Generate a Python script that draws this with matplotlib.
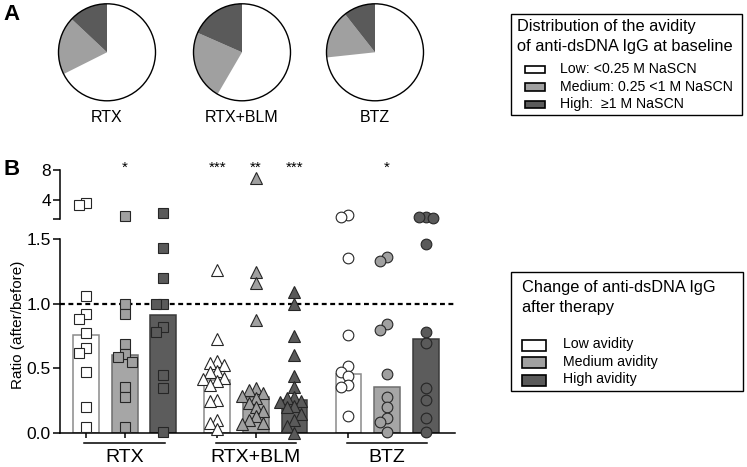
import matplotlib

matplotlib.use("Agg")
import matplotlib.pyplot as plt
import numpy as np
from matplotlib.patches import Circle, Rectangle

plt.rcParams["font.family"] = ["Liberation Sans", "DejaVu Sans"]

# ---- panel A: baseline avidity distribution (fractions) ----
PIE_GROUPS = ["RTX", "RTX+BLM", "BTZ"]
PIE_LOW = [0.676, 0.584, 0.733]
PIE_MED = [0.194, 0.232, 0.161]
PIE_HIGH = [0.130, 0.184, 0.106]

# ---- panel B: ratio after/before per patient ----
GROUPS = ["RTX", "RTX+BLM", "BTZ"]
AVIDITY = ["Low avidity", "Medium avidity", "High avidity"]
RTX_LOW = [3.64, 3.33, 1.06, 0.92, 0.88, 0.77, 0.66, 0.62, 0.47, 0.20, 0.05]
RTX_MED = [1.91, 1.00, 0.92, 0.69, 0.61, 0.585, 0.55, 0.36, 0.28, 0.05]
RTX_HIGH = [2.22, 1.43, 1.20, 1.00, 1.00, 0.82, 0.78, 0.45, 0.35, 0.01]
BLM_LOW = [1.26, 0.73, 0.56, 0.54, 0.53, 0.48, 0.47, 0.43, 0.42, 0.40, 0.37,
           0.26, 0.25, 0.10, 0.08, 0.03]
BLM_MED = [6.89, 1.24, 1.16, 0.87, 0.35, 0.33, 0.31, 0.29, 0.27, 0.23, 0.20,
           0.17, 0.13, 0.10, 0.08, 0.07]
BLM_HIGH = [1.09, 1.00, 0.75, 0.60, 0.44, 0.36, 0.28, 0.27, 0.25, 0.24, 0.21,
            0.20, 0.15, 0.10, 0.06, 0.00]
BTZ_LOW = [2.00, 1.77, 1.35, 0.76, 0.52, 0.47, 0.44, 0.37, 0.36, 0.135]
BTZ_MED = [1.36, 1.33, 0.84, 0.795, 0.46, 0.28, 0.20, 0.12, 0.09, 0.01]
BTZ_HIGH = [1.77, 1.69, 1.64, 1.46, 0.78, 0.70, 0.35, 0.26, 0.115, 0.01]
MEDIAN_RTX = [0.76, 0.60, 0.91]
MEDIAN_BLM = [0.41, 0.28, 0.255]
MEDIAN_BTZ = [0.46, 0.36, 0.73]
STARS_RTX = ["", "*", ""]
STARS_BLM = ["***", "**", "***"]
STARS_BTZ = ["", "*", ""]

SERIES = [[RTX_LOW, RTX_MED, RTX_HIGH], [BLM_LOW, BLM_MED, BLM_HIGH],
          [BTZ_LOW, BTZ_MED, BTZ_HIGH]]
MEDIANS = [MEDIAN_RTX, MEDIAN_BLM, MEDIAN_BTZ]
STARS = [STARS_RTX, STARS_BLM, STARS_BTZ]

# greys: fill, bar edge
FILLS = ["#ffffff", "#a0a0a0", "#5a5a5a"]
BAR_FILL = ["#ffffff", "#a6a6a6", "#5c5c5c"]
BAR_EDGE = ["#8a8a8a", "#6e6e6e", "#3a3a3a"]
MARKERS = ["s", "^", "o"]
MSIZE = [7.2, 8.0, 7.7]

W, H = 747, 467
PX_UNIT = 38.6            # px per category step
LOW_PX, GAP_PX, UP_PX = 194.5, 20.0, 48.75


def fbox(x0, y0, x1, y1):
    return [x0 / W, 1 - y1 / H, (x1 - x0) / W, (y1 - y0) / H]


def ftext(x, y, s, **kw):
    fig.text(x / W, 1 - y / H, s, **kw)


def to_px(v):
    if v <= 1.5:
        return v * LOW_PX / 1.5
    return LOW_PX + GAP_PX + (v - 1.5) * UP_PX / 6.5


def swarm(vals, step=7.0, dy_min=9.0):
    """small beeswarm in pixel space (max 2 steps out) -> offsets in category units"""
    placed, out = [], []
    for v in vals:
        y = to_px(v)
        best, best_d = 0.0, -1.0
        for k in (0, -1, 1, -2, 2):
            x = k * step
            same_col = [abs(y - py) for px, py in placed if abs(x - px) < step * 0.9]
            d = min(same_col) if same_col else np.inf
            if d >= dy_min:
                best = x
                break
            if d > best_d:
                best, best_d = x, d
        placed.append((best, y))
        out.append(best / PX_UNIT)
    return np.array(out)


fig = plt.figure(figsize=(W / 100, H / 100), dpi=100)

# ---------------- panel A ----------------
ftext(11, 14, "A", fontsize=16, fontweight="bold", ha="center", va="center")
for cx, name, lo, me, hi in zip([107, 242, 375], PIE_GROUPS, PIE_LOW, PIE_MED, PIE_HIGH):
    r = 48.5
    pax = fig.add_axes(fbox(cx - r, 52.3 - r, cx + r, 52.3 + r))
    pax.pie([lo, me, hi], colors=FILLS, startangle=90, counterclock=False,
            wedgeprops=dict(linewidth=0))
    pax.add_patch(Circle((0, 0), 1, fill=False, ec="black", lw=1.0, clip_on=False))
    pax.set_xlim(-1, 1)
    pax.set_ylim(-1, 1)
    pax.set_aspect("equal")
    pax.axis("off")
    ftext(cx, 110, name, fontsize=11.5, ha="center", va="top")

# legend A
fig.add_artist(Rectangle((510.7 / W, 1 - 115 / H), 231 / W, 101 / H, fill=False,
                         ec="black", lw=1.0, transform=fig.transFigure))
ftext(516.7, 31.5, "Distribution of the avidity", fontsize=11.8, va="baseline")
ftext(516.7, 50.5, "of anti-dsDNA IgG at baseline", fontsize=11.8, va="baseline")
for i, lab in enumerate(["Low: <0.25 M NaSCN", "Medium: 0.25 <1 M NaSCN",
                         "High:  \u22651 M NaSCN"]):
    base = 73.3 + i * 17.5
    fig.add_artist(Rectangle((525 / W, 1 - base / H), 20 / W, 7.7 / H, fc=FILLS[i],
                             ec="black", lw=1.2, transform=fig.transFigure))
    ftext(560, base, lab, fontsize=10.2, va="baseline")

# ---------------- panel B ----------------
ftext(11.5, 169.5, "B", fontsize=16, fontweight="bold", ha="center", va="center")
xlim = (-26 / PX_UNIT, (455 - 86) / PX_UNIT)
ax = fig.add_axes(fbox(60, 238.75, 455, 433.3))
axu = fig.add_axes(fbox(60, 170, 455, 218.75))

for a in (ax, axu):
    a.set_xlim(*xlim)
    a.patch.set_alpha(0)
    for s in ("top", "right"):
        a.spines[s].set_visible(False)
    a.spines["left"].set_linewidth(1.1)
    a.tick_params(axis="y", direction="out", length=5, width=1.1, pad=1.5,
                  labelsize=12.5)
axu.spines["bottom"].set_visible(False)
axu.set_xticks([])
axu.set_ylim(1.5, 8)
axu.set_yticks([1.5, 4, 8])
axu.set_yticklabels(["", "4", "8"])

ax.spines["bottom"].set_linewidth(1.1)
ax.set_ylim(0, 1.5)
ax.set_yticks([0, 0.5, 1.0, 1.5])
ax.set_yticklabels(["0.0", "0.5", "1.0", "1.5"])
ax.axhline(1.0, color="black", lw=1.6, ls=(0, (2.2, 1.6)), zorder=2.5)

xticks = []
for g, (gname, group, meds, stars) in enumerate(zip(GROUPS, SERIES, MEDIANS, STARS)):
    x0 = g * 3.4
    for k in range(3):
        x = x0 + k
        xticks.append(x)
        ax.bar(x, meds[k], width=0.67, color=BAR_FILL[k], edgecolor=BAR_EDGE[k],
               lw=1.1, zorder=2)
        vals = np.array(group[k])
        xs = x + swarm(vals)
        for target, mask in ((axu, vals > 1.5), (ax, vals <= 1.5)):
            target.plot(xs[mask], vals[mask], ls="none", marker=MARKERS[g],
                        ms=MSIZE[g], mfc=FILLS[k], mec="#262626", mew=0.8,
                        clip_on=False, zorder=3)
        if stars[k]:
            ftext(86 + x * PX_UNIT, 172, stars[k], fontsize=11, ha="center",
                  va="baseline")
    trans = ax.get_xaxis_transform()
    ax.plot([x0 - 0.04, x0 + 2.04], [-0.051, -0.051], color="black", lw=1.1,
            transform=trans, clip_on=False)
    ftext(86 + (x0 + 1) * PX_UNIT, 461.5, gname, fontsize=14, ha="center",
          va="baseline")

ax.set_xticks(xticks)
ax.set_xticklabels([])
ax.tick_params(axis="x", direction="out", length=3.5, width=1.1)

ftext(18, 325, "Ratio (after/before)", fontsize=11, rotation=90, ha="center",
      va="center")

# legend B
fig.add_artist(Rectangle((510.7 / W, 1 - 390.7 / H), 232.3 / W, 119 / H, fill=False,
                         ec="black", lw=1.0, transform=fig.transFigure))
ftext(521.7, 291.7, "Change of anti-dsDNA IgG", fontsize=11.8, va="baseline")
ftext(521.7, 311.7, "after therapy", fontsize=11.8, va="baseline")
for i, lab in enumerate(AVIDITY):
    base = 348.3 + i * 17.5
    fig.add_artist(Rectangle((522.3 / W, 1 - (base + 2.5) / H), 23.4 / W, 11 / H,
                             fc=FILLS[i], ec="black", lw=1.2,
                             transform=fig.transFigure))
    ftext(563.3, base, lab, fontsize=10.2, va="baseline")

fig.savefig("out.png", dpi=100)
